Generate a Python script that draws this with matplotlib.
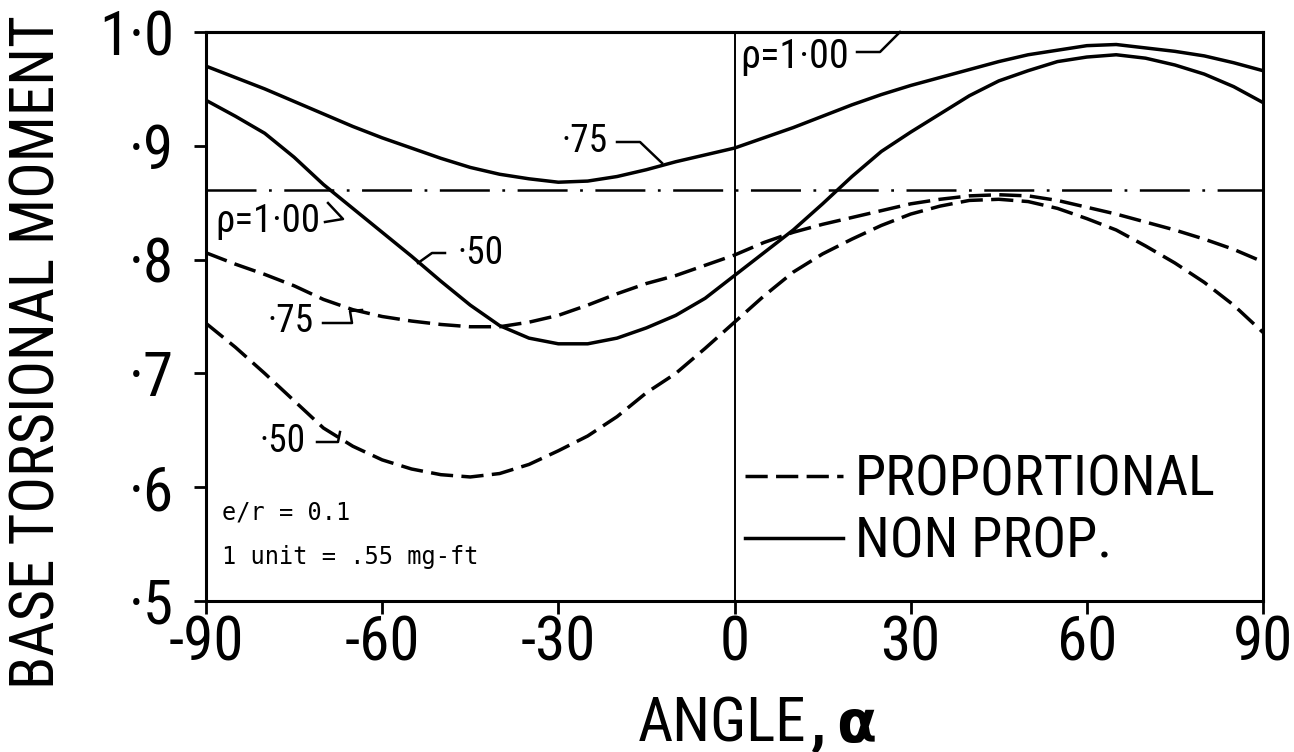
import matplotlib
matplotlib.use("Agg")
import matplotlib.pyplot as plt
from matplotlib import font_manager as fm

# ---------------- data ----------------
angle = [-90, -85, -80, -75, -70, -65, -60, -55, -50, -45, -40, -35, -30, -25, -20,
         -15, -10, -5, 0, 5, 10, 15, 20, 25, 30, 35, 40, 45, 50, 55, 60, 65, 70,
         75, 80, 85, 90]

# non-proportional (solid)
nonprop_75 = [0.970, 0.960, 0.950, 0.939, 0.928, 0.917, 0.907, 0.898, 0.889, 0.881,
              0.875, 0.871, 0.868, 0.869, 0.873, 0.879, 0.886, 0.892, 0.898, 0.907,
              0.916, 0.926, 0.936, 0.945, 0.953, 0.960, 0.967, 0.974, 0.980, 0.984,
              0.988, 0.989, 0.986, 0.983, 0.979, 0.973, 0.966]
nonprop_50 = [0.940, 0.926, 0.911, 0.890, 0.866, 0.845, 0.824, 0.803, 0.781, 0.760,
              0.742, 0.731, 0.726, 0.726, 0.731, 0.740, 0.751, 0.766, 0.786, 0.806,
              0.826, 0.849, 0.873, 0.895, 0.912, 0.928, 0.944, 0.957, 0.966, 0.974,
              0.978, 0.980, 0.977, 0.971, 0.963, 0.952, 0.938]
# proportional (dashed)
prop_75 = [0.806, 0.796, 0.787, 0.777, 0.765, 0.756, 0.750, 0.746, 0.743, 0.741,
           0.741, 0.745, 0.751, 0.760, 0.770, 0.779, 0.786, 0.795, 0.804, 0.815,
           0.824, 0.831, 0.837, 0.843, 0.849, 0.853, 0.856, 0.857, 0.856, 0.852,
           0.846, 0.840, 0.833, 0.826, 0.818, 0.809, 0.798]
prop_50 = [0.744, 0.723, 0.700, 0.676, 0.652, 0.636, 0.624, 0.616, 0.611, 0.609,
           0.612, 0.620, 0.632, 0.645, 0.662, 0.683, 0.700, 0.722, 0.745, 0.768,
           0.789, 0.805, 0.818, 0.830, 0.840, 0.847, 0.852, 0.853, 0.851, 0.845,
           0.836, 0.826, 0.812, 0.797, 0.780, 0.760, 0.736]
# rho = 1.00 (constant)
rho1_angle = [-90, 90]
rho1_nonprop = [1.00, 1.00]
rho1_prop = [0.861, 0.861]

xticks = [-90, -60, -30, 0, 30, 60, 90]
xticklabels = ["-90", "-60", "-30", "0", "30", "60", "90"]
yticks = [0.5, 0.6, 0.7, 0.8, 0.9, 1.0]
yticklabels = ["·5", "·6", "·7", "·8", "·9", "1·0"]

# ---------------- fonts ----------------
def has_font(name):
    try:
        fm.findfont(fm.FontProperties(family=name), fallback_to_default=False)
        return True
    except Exception:
        return False

MAIN = "DejaVu Sans"
for cand in ["Roboto Condensed", "Liberation Sans Narrow", "Arial Narrow",
             "Roboto", "Liberation Sans"]:
    if has_font(cand):
        MAIN = cand
        break
FAM = [MAIN, "DejaVu Sans"]
MONO = ["DejaVu Sans Mono"]

plt.rcParams["font.family"] = FAM
plt.rcParams["lines.scale_dashes"] = False

# ---------------- figure ----------------
W, H = 1294, 752
fig = plt.figure(figsize=(W / 100, H / 100), dpi=100)
L, R, T, B = 206, 1263, 32, 601
ax = fig.add_axes([L / W, 1 - B / H, (R - L) / W, (B - T) / H])
ax.set_xlim(-90, 90)
ax.set_ylim(0.5, 1.0)

def px(x, y):
    """pixel position -> data coordinates (for annotation placement)"""
    return (-90 + (x - L) / (R - L) * 180, 1.0 - (y - T) / (B - T) * 0.5)

lw = 2.5
dash = (0, (16, 6))
# vertical reference line at 0 deg
ax.axvline(0, color="black", lw=1.4, zorder=1)
# rho = 1.00
ax.plot(rho1_angle, rho1_nonprop, color="black", lw=2.2, clip_on=False)
ax.plot(rho1_angle, rho1_prop, color="black", lw=1.8,
        linestyle=(0, (36, 9, 2, 9)))
# curves
l_np75, = ax.plot(angle, nonprop_75, color="black", lw=lw)
l_np50, = ax.plot(angle, nonprop_50, color="black", lw=lw, label="NON PROP.")
l_p75, = ax.plot(angle, prop_75, color="black", lw=lw, linestyle=dash,
                 label="PROPORTIONAL")
l_p50, = ax.plot(angle, prop_50, color="black", lw=lw, linestyle=dash)

# axes styling
for s in ax.spines.values():
    s.set_linewidth(2.2)
ax.set_xticks(xticks)
ax.set_xticklabels(xticklabels)
ax.set_yticks(yticks)
ax.set_yticklabels(yticklabels)
ax.tick_params(axis="both", direction="out", length=9, width=2.0, labelsize=44)
ax.tick_params(axis="x", pad=1)
ax.tick_params(axis="y", pad=14)

# axis labels
fig.text(38 / W, 1 - 352 / H, "BASE TORSIONAL MOMENT", rotation=90,
         ha="center", va="center", fontsize=44)
t_angle = fig.text(638 / W, 1 - 742 / H, "ANGLE", ha="left", va="baseline",
                   fontsize=44)
ax.annotate(",", xy=(1, 0), xycoords=t_angle, xytext=(3, 0),
            textcoords="offset points", ha="left", va="bottom", fontsize=44,
            fontweight="bold", annotation_clip=False)
fig.text(836 / W, 1 - 742 / H, "α", ha="left", va="baseline", fontsize=42,
         fontweight="bold", family=["DejaVu Sans"])

# legend
leg = ax.legend(handles=[l_p75, l_np50], loc="center left",
                bbox_to_anchor=((745 - L) / (R - L), (B - 511) / (B - T)),
                frameon=False, fontsize=40.5, handlelength=1.75, handletextpad=0.2,
                labelspacing=0.15, borderpad=0, borderaxespad=0)

# annotations
def label(text, x, y, size=25, ha="left"):
    ax.text(*px(x, y), text, ha=ha, va="center", fontsize=size)

def leader(points):
    xs, ys = zip(*[px(x, y) for x, y in points])
    ax.plot(xs, ys, color="black", lw=1.8, clip_on=False)

label("ρ=1·00", 740, 56, size=29)
leader([(857, 52), (880, 52), (900, 32)])
label("·75", 562, 142, size=27)
leader([(617, 142), (640, 142), (662, 163)])
label("·50", 457, 253, size=27)
leader([(445, 253), (432, 253), (418, 263)])
label("ρ=1·00", 215, 222, size=28)
leader([(325, 222), (343, 219), (328, 203)])
label("·75", 267, 321, size=27)
leader([(323, 323), (352, 323), (350, 311), (362, 310)])
label("·50", 260, 442, size=27)
leader([(317, 442), (338, 442), (340, 432)])

ax.text(*px(222, 512), "e/r = 0.1", ha="left", va="center", fontsize=17,
        family=MONO)
ax.text(*px(222, 557), "1 unit = .55 mg-ft", ha="left", va="center", fontsize=17,
        family=MONO)

fig.savefig("out.png", dpi=100)
